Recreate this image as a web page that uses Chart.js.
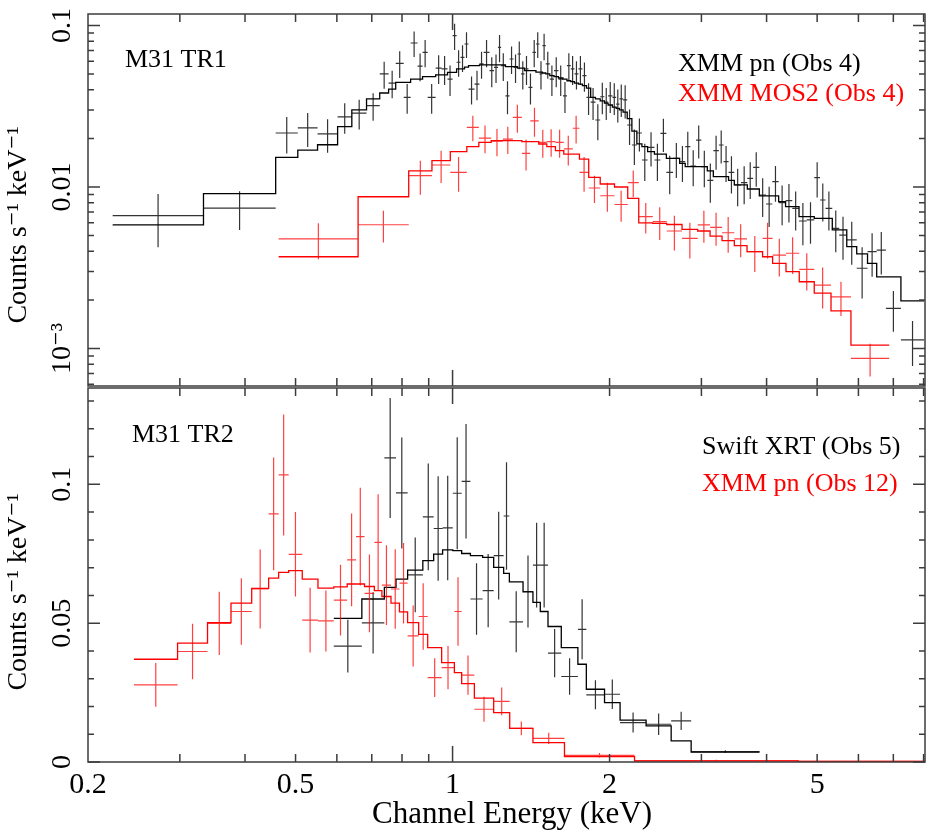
<!DOCTYPE html>
<html>
<head>
<meta charset="utf-8">
<script src="https://cdn.jsdelivr.net/npm/chart.js@4.4.1/dist/chart.umd.min.js"></script>
<style>
  html, body { margin: 0; padding: 0; background: #fff; }
  #wrap { position: relative; width: 928px; height: 834px; }
  canvas { position: absolute; left: 0; top: 0; }
</style>
</head>
<body>
<div id="wrap">
  <canvas id="bottomChart" width="928" height="834"></canvas>
  <canvas id="topChart" width="928" height="834"></canvas>
</div>
<script>
// ---- top panel: M31 TR1, XMM pn (Obs 4) ----
const pnEdges = [0.223, 0.333, 0.458, 0.505, 0.551, 0.602, 0.641, 0.684, 0.725, 0.754,
  0.778, 0.806, 0.831, 0.857, 0.876, 0.896, 0.928, 0.953, 0.978, 1.000,
  1.018, 1.036, 1.054, 1.073, 1.102, 1.126, 1.147, 1.177, 1.201, 1.222,
  1.239, 1.263, 1.286, 1.309, 1.332, 1.353, 1.374, 1.398, 1.423, 1.445,
  1.468, 1.487, 1.509, 1.536, 1.565, 1.596, 1.628, 1.657, 1.685, 1.713,
  1.743, 1.774, 1.806, 1.840, 1.879, 1.919, 1.955, 1.987, 2.025, 2.059,
  2.089, 2.123, 2.162, 2.207, 2.256, 2.307, 2.366, 2.438, 2.503, 2.570,
  2.647, 2.725, 2.793, 2.857, 2.930, 2.999, 3.079, 3.162, 3.240, 3.308,
  3.382, 3.469, 3.573, 3.674, 3.769, 3.874, 3.990, 4.102, 4.219, 4.350,
  4.481, 4.616, 4.776, 4.937, 5.065, 5.189, 5.346, 5.513, 5.699, 5.955,
  6.246, 6.504, 6.773, 7.238, 8.02];
const pnRate = [0.00664, 0.00741, 0.0216, 0.0232, 0.0213, 0.0272, 0.0287, 0.0319, 0.0501, 0.0440,
  0.0583, 0.0359, 0.0779, 0.0561, 0.0682, 0.0359, 0.0545, 0.0538, 0.0466, 0.0865,
  0.0592, 0.0635, 0.0768, 0.0404, 0.0434, 0.0578, 0.0682, 0.0525, 0.0551, 0.0733,
  0.0564, 0.0367, 0.0620, 0.0551, 0.0666, 0.0501, 0.0538, 0.0414, 0.0682, 0.0768,
  0.0501, 0.0750, 0.0578, 0.0466, 0.0525, 0.0466, 0.0367, 0.0564, 0.0538, 0.0501,
  0.0538, 0.0489, 0.0359, 0.0335, 0.0260, 0.0362, 0.0335, 0.0367, 0.0359, 0.0326,
  0.0351, 0.0346, 0.0242, 0.0182, 0.0216, 0.0147, 0.0176, 0.0147, 0.0215, 0.01233,
  0.01505, 0.01434, 0.01776, 0.01349, 0.0195, 0.01336, 0.0110, 0.01678, 0.0182, 0.01434,
  0.01233, 0.01029, 0.01063, 0.01132, 0.01324, 0.00892, 0.00785, 0.01079, 0.0080, 0.00823,
  0.00738, 0.00616, 0.00625, 0.01142, 0.00831, 0.00738, 0.00555, 0.00504, 0.0047, 0.00314,
  0.00398, 0.00407, 0.00177, 0.00113];
const pnErr = [0.0024, 0.0020, 0.0055, 0.0055, 0.0050, 0.0058, 0.0060, 0.0062, 0.0095, 0.0085,
  0.011, 0.0075, 0.014, 0.011, 0.013, 0.0075, 0.011, 0.011, 0.010, 0.016,
  0.011, 0.012, 0.014, 0.008, 0.009, 0.011, 0.013, 0.011, 0.011, 0.014,
  0.011, 0.0085, 0.012, 0.011, 0.013, 0.010, 0.011, 0.009, 0.013, 0.014,
  0.010, 0.014, 0.011, 0.010, 0.011, 0.010, 0.008, 0.011, 0.011, 0.010,
  0.011, 0.010, 0.008, 0.0075, 0.0065, 0.008, 0.0075, 0.008, 0.008, 0.0075,
  0.008, 0.008, 0.006, 0.0045, 0.005, 0.0038, 0.0042, 0.0038, 0.005, 0.0033,
  0.0037, 0.0036, 0.0042, 0.0034, 0.0045, 0.0034, 0.003, 0.004, 0.0042, 0.0036,
  0.0032, 0.0027, 0.0028, 0.0029, 0.0032, 0.0024, 0.0022, 0.0027, 0.0022, 0.0022,
  0.002, 0.0018, 0.0018, 0.0028, 0.0022, 0.002, 0.0016, 0.0015, 0.0014, 0.0011,
  0.0012, 0.0012, 0.0005, 0.00035];
const pnModel = [0.00582, 0.00909, 0.01527, 0.01694, 0.01827, 0.02362, 0.0300, 0.0351, 0.0382, 0.0404,
  0.0445, 0.0445, 0.0466, 0.0466, 0.0482, 0.0482, 0.0494, 0.0494, 0.0513, 0.0513,
  0.0538, 0.0538, 0.0553, 0.0564, 0.0564, 0.0571, 0.0571, 0.0571, 0.0571, 0.0571,
  0.0571, 0.0556, 0.0556, 0.0556, 0.0545, 0.0545, 0.0525, 0.0525, 0.0525, 0.0515,
  0.0515, 0.0508, 0.0501, 0.0489, 0.0482, 0.0473, 0.0466, 0.0455, 0.0449, 0.0440,
  0.0434, 0.0424, 0.0410, 0.0359, 0.0351, 0.0341, 0.0331, 0.0322, 0.0312, 0.0307,
  0.0300, 0.0291, 0.0265, 0.0222, 0.0185, 0.0178, 0.01654, 0.0160, 0.0160, 0.01505,
  0.01505, 0.01402, 0.01336, 0.01336, 0.01336, 0.01336, 0.0126, 0.0116, 0.0116, 0.0116,
  0.0110, 0.0103, 0.0103, 0.00972, 0.00972, 0.0088, 0.0088, 0.0088, 0.00811, 0.00755,
  0.00755, 0.00655, 0.00655, 0.0064, 0.0064, 0.0064, 0.00542, 0.00542, 0.00427, 0.00385,
  0.00337, 0.00278, 0.00278, 0.00197];

// ---- top panel: XMM MOS2 (Obs 4) ----
const mosEdges = [0.464, 0.659, 0.824, 0.913, 0.990, 1.065, 1.123, 1.186, 1.248, 1.305,
  1.358, 1.409, 1.463, 1.516, 1.575, 1.634, 1.700, 1.751, 1.824, 1.919,
  2.044, 2.167, 2.275, 2.420, 2.574, 2.754, 2.951, 3.117, 3.286, 3.469,
  3.669, 3.930, 4.108, 4.358, 4.621, 4.937, 5.316, 5.805, 6.874];
const mosRate = [0.00477, 0.00584, 0.01175, 0.01368, 0.01233, 0.0234, 0.0201, 0.0192, 0.0198, 0.0270,
  0.01617, 0.0257, 0.0189, 0.0191, 0.0189, 0.0172, 0.0231, 0.01233, 0.00986, 0.00883,
  0.00779, 0.01063, 0.00655, 0.0061, 0.00534, 0.00481, 0.00582, 0.00563, 0.00521, 0.00477,
  0.00398, 0.00481, 0.00379, 0.00389, 0.00309, 0.00247, 0.00209, 0.00087];
const mosErr = [0.0012, 0.0013, 0.0028, 0.0031, 0.0030, 0.0042, 0.0039, 0.0037, 0.0038, 0.0053,
  0.0035, 0.0052, 0.0037, 0.0037, 0.0037, 0.0036, 0.0045, 0.0030, 0.0019, 0.0018,
  0.0017, 0.0020, 0.0014, 0.0014, 0.0013, 0.0012, 0.0013, 0.0013, 0.0013, 0.0011,
  0.0010, 0.0012, 0.0010, 0.0010, 0.0008, 0.0007, 0.0005, 0.0002];
const mosModel = [0.0037, 0.0087, 0.0126, 0.01455, 0.01654, 0.01776, 0.0189, 0.01935, 0.01935, 0.01935,
  0.0191, 0.0191, 0.01846, 0.01776, 0.01678, 0.0160, 0.0160, 0.0149, 0.01148, 0.01044,
  0.0100, 0.00851, 0.0060, 0.00596, 0.00586, 0.00547, 0.00534, 0.00497, 0.00465, 0.00433,
  0.00398, 0.0037, 0.00337, 0.00299, 0.00259, 0.0022, 0.00171, 0.00105];

// ---- bottom panel: M31 TR2, Swift XRT (Obs 5) ----
const xrtEdges = [0.592, 0.670, 0.740, 0.779, 0.820, 0.877, 0.920, 0.957, 1.001, 1.041,
  1.082, 1.142, 1.199, 1.253, 1.285, 1.365, 1.426, 1.473, 1.524, 1.616,
  1.739, 1.805, 1.956, 2.095, 2.35, 2.625, 2.867, 3.877];
const xrtRate = [0.0417, 0.0501, 0.1095, 0.0969, 0.0674, 0.0883, 0.0841, 0.0843, 0.0968, 0.1011,
  0.0587, 0.0617, 0.0743, 0.0886, 0.0505, 0.0614, 0.0709, 0.0709, 0.0392, 0.0308,
  0.0478, 0.0242, 0.0244, 0.0142, 0.0136, 0.0148, 0.0037];
const xrtErr = [0.0095, 0.011, 0.0216, 0.020, 0.0135, 0.0192, 0.0188, 0.0188, 0.0202, 0.0206,
  0.0129, 0.0132, 0.0158, 0.0194, 0.011, 0.013, 0.0153, 0.0153, 0.0087, 0.0066,
  0.0108, 0.0052, 0.0053, 0.0036, 0.0039, 0.0033, 0.0005];
const xrtModel = [0.0517, 0.0587, 0.0629, 0.0659, 0.0691, 0.0725, 0.0749, 0.0764, 0.0761, 0.0751,
  0.0743, 0.0737, 0.0701, 0.0679, 0.0649, 0.0613, 0.0575, 0.0542, 0.0488, 0.0412,
  0.0352, 0.0262, 0.0214, 0.0151, 0.0130, 0.0076, 0.0036];

// ---- bottom panel: XMM pn (Obs 12) ----
const pn12Edges = [0.245, 0.297, 0.339, 0.376, 0.412, 0.444, 0.464, 0.485, 0.515, 0.552,
  0.592, 0.628, 0.653, 0.678, 0.708, 0.732, 0.762, 0.791, 0.820, 0.861,
  0.896, 0.953, 1.008, 1.041, 1.101, 1.199, 1.287, 1.426, 1.639, 2.233,
  4.6, 8.3];
const pn12Rate = [0.0278, 0.0398, 0.0499, 0.0542, 0.0623, 0.0894, 0.1034, 0.0748, 0.0511, 0.0508,
  0.0583, 0.0728, 0.0812, 0.0607, 0.0791, 0.0637, 0.0623, 0.0644, 0.0454, 0.0524,
  0.0304, 0.034, 0.0542, 0.0313, 0.019, 0.0218, 0.0121, 0.0085, 0.0024, 0.0004,
  0.0002];
const pn12Err = [0.0079, 0.010, 0.0114, 0.012, 0.0142, 0.0203, 0.0218, 0.0152, 0.0117, 0.011,
  0.0127, 0.0167, 0.0176, 0.014, 0.0173, 0.0144, 0.0143, 0.0145, 0.011, 0.012,
  0.007, 0.0078, 0.0123, 0.0071, 0.0045, 0.005, 0.0025, 0.002, 0.0008, 0.0004,
  0.0002];
const pn12Model = [0.037, 0.0428, 0.0502, 0.0572, 0.0625, 0.0662, 0.0683, 0.0689, 0.0659, 0.0626,
  0.0631, 0.0641, 0.0641, 0.0632, 0.0617, 0.0596, 0.0572, 0.0541, 0.0502, 0.046,
  0.0412, 0.0358, 0.0322, 0.0282, 0.023, 0.0178, 0.0121, 0.007, 0.0019, 0.0004,
  0.0002];

// ---- axes ----
const xLabelTicks = [0.2, 0.5, 1, 2, 5];
const xMinorTicks = [0.3, 0.4, 0.5, 0.6, 0.7, 0.8, 0.9, 2, 3, 4, 5, 6, 7, 8];
const xMajorTicks = [1];
const topYMajor = [0.001, 0.01, 0.1];
const topYMinor = [0.0006, 0.0007, 0.0008, 0.0009, 0.002, 0.003, 0.004, 0.005, 0.006, 0.007, 0.008, 0.009,
  0.02, 0.03, 0.04, 0.05, 0.06, 0.07, 0.08, 0.09];
const topYLabels = ['10\u207B\u00B3', '0.01', '0.1'];
const botYMajor = [0, 0.05, 0.1];
const botYMinor = [0.01, 0.02, 0.03, 0.04, 0.06, 0.07, 0.08, 0.09, 0.11, 0.12, 0.13];
const botYLabels = ['0', '0.05', '0.1'];

const serif = '"Liberation Serif", "DejaVu Serif", serif';

function crosses(edges, rate, err) {
  return rate.map((v, i) => ({
    x: Math.sqrt(edges[i] * edges[i + 1]), y: v,
    xMin: edges[i], xMax: edges[i + 1], yMin: v - err[i], yMax: v + err[i]
  }));
}

function steps(edges, model) {
  const pts = [];
  model.forEach((m, i) => {
    pts.push({ x: edges[i], y: m });
    pts.push({ x: edges[i + 1], y: m });
  });
  return pts;
}

function modelSet(label, data, color) {
  return { label, data, borderColor: color, borderWidth: 1.3, pointRadius: 0, fill: false, tension: 0 };
}

function dataSet(label, data, color) {
  return { label, data, showLine: false, pointRadius: 0, crossColor: color };
}

// draws data points as crosses (bin width x error)
const errorCrosses = {
  id: 'errorCrosses',
  afterDatasetsDraw(chart) {
    const { ctx, chartArea: a, scales: { x, y } } = chart;
    ctx.save();
    ctx.beginPath();
    ctx.rect(a.left, a.top, a.right - a.left, a.bottom - a.top);
    ctx.clip();
    ctx.lineWidth = 1.2;
    chart.data.datasets.forEach(ds => {
      if (!ds.crossColor) return;
      ctx.strokeStyle = ds.crossColor;
      ctx.beginPath();
      ds.data.forEach(p => {
        const px = x.getPixelForValue(p.x), py = y.getPixelForValue(p.y);
        ctx.moveTo(x.getPixelForValue(p.xMin), py);
        ctx.lineTo(x.getPixelForValue(p.xMax), py);
        const lo = p.yMin > 0 || y.type !== 'logarithmic' ? y.getPixelForValue(p.yMin) : a.bottom;
        ctx.moveTo(px, lo);
        ctx.lineTo(px, y.getPixelForValue(p.yMax));
      });
      ctx.stroke();
    });
    ctx.restore();
  }
};

function panelFrame(cfg) {
  return {
    id: 'panelFrame',
    afterDraw(chart) {
      const { ctx, chartArea: a, scales: { x, y } } = chart;
      ctx.save();
      ctx.strokeStyle = '#3c3c3c';
      ctx.lineWidth = 1.5;
      ctx.strokeRect(a.left, a.top, a.right - a.left, a.bottom - a.top);
      ctx.beginPath();
      const xTick = (vals, len) => vals.forEach(v => {
        const px = x.getPixelForValue(v);
        ctx.moveTo(px, a.bottom); ctx.lineTo(px, a.bottom - len);
        ctx.moveTo(px, a.top); ctx.lineTo(px, a.top + len);
      });
      const yTick = (vals, len) => vals.forEach(v => {
        const py = y.getPixelForValue(v);
        ctx.moveTo(a.left, py); ctx.lineTo(a.left + len, py);
        ctx.moveTo(a.right, py); ctx.lineTo(a.right - len, py);
      });
      xTick(xMinorTicks, 8);
      xTick(xMajorTicks, 16);
      yTick(cfg.yMinor, 6);
      yTick(cfg.yMajor, 12);
      ctx.stroke();

      ctx.fillStyle = '#000';
      ctx.textBaseline = 'alphabetic';
      // rotated y tick labels
      ctx.font = '28px ' + serif;
      ctx.textAlign = 'center';
      cfg.yMajor.forEach((v, i) => {
        ctx.save();
        ctx.translate(70, y.getPixelForValue(v));
        ctx.rotate(-Math.PI / 2);
        ctx.fillText(cfg.yLabels[i], 0, 0);
        ctx.restore();
      });
      // y title
      ctx.save();
      ctx.translate(26, cfg.titleY);
      ctx.rotate(-Math.PI / 2);
      ctx.font = '28px ' + serif;
      ctx.fillText('Counts s\u207B\u00B9 keV\u207B\u00B9', 0, 0);
      ctx.restore();

      if (cfg.xLabels) {
        ctx.font = '30px ' + serif;
        xLabelTicks.forEach(v => ctx.fillText(String(v), x.getPixelForValue(v), 793));
        ctx.font = '31px ' + serif;
        ctx.fillText('Channel Energy (keV)', 512, 823);
      }

      ctx.textAlign = 'left';
      ctx.font = '26px ' + serif;
      ctx.fillText(cfg.name[0], cfg.name[1], cfg.name[2]);
      cfg.legend.forEach(([txt, color, lx, ly]) => {
        ctx.fillStyle = color;
        ctx.fillText(txt, lx, ly);
      });
      ctx.restore();
    }
  };
}

function baseOptions(padding, yScale) {
  return {
    responsive: false,
    animation: false,
    layout: { padding },
    scales: {
      x: { type: 'logarithmic', min: 0.2, max: 8.05, display: false },
      y: Object.assign({ display: false }, yScale)
    },
    plugins: { legend: { display: false }, tooltip: { enabled: false } }
  };
}

new Chart(document.getElementById('topChart'), {
  type: 'line',
  data: {
    datasets: [
      modelSet('XMM pn (Obs 4) model', steps(pnEdges, pnModel), '#000000'),
      modelSet('XMM MOS2 (Obs 4) model', steps(mosEdges, mosModel), '#ff0000'),
      dataSet('XMM pn (Obs 4)', crosses(pnEdges, pnRate, pnErr), 'rgba(0,0,0,0.8)'),
      dataSet('XMM MOS2 (Obs 4)', crosses(mosEdges, mosRate, mosErr), 'rgba(255,0,0,0.75)')
    ]
  },
  options: baseOptions({ left: 88, right: 3, top: 14, bottom: 448 },
    { type: 'logarithmic', min: 0.000586, max: 0.1178 }),
  plugins: [errorCrosses, panelFrame({
    yMajor: topYMajor, yMinor: topYMinor, yLabels: topYLabels, titleY: 225, xLabels: false,
    name: ['M31 TR1', 125, 67],
    legend: [['XMM pn (Obs 4)', '#000000', 678, 71], ['XMM MOS2 (Obs 4)', '#ff0000', 678, 101]]
  })]
});

new Chart(document.getElementById('bottomChart'), {
  type: 'line',
  data: {
    datasets: [
      modelSet('Swift XRT (Obs 5) model', steps(xrtEdges, xrtModel), '#000000'),
      modelSet('XMM pn (Obs 12) model', steps(pn12Edges, pn12Model), '#ff0000'),
      dataSet('Swift XRT (Obs 5)', crosses(xrtEdges, xrtRate, xrtErr), 'rgba(0,0,0,0.8)'),
      dataSet('XMM pn (Obs 12)', crosses(pn12Edges, pn12Rate, pn12Err), 'rgba(255,0,0,0.75)')
    ]
  },
  options: baseOptions({ left: 88, right: 3, top: 388, bottom: 72 },
    { type: 'linear', min: 0, max: 0.1347 }),
  plugins: [errorCrosses, panelFrame({
    yMajor: botYMajor, yMinor: botYMinor, yLabels: botYLabels, titleY: 592, xLabels: true,
    name: ['M31 TR2', 132, 442],
    legend: [['Swift XRT (Obs 5)', '#000000', 702, 454], ['XMM pn (Obs 12)', '#ff0000', 702, 491]]
  })]
});
</script>
</body>
</html>
